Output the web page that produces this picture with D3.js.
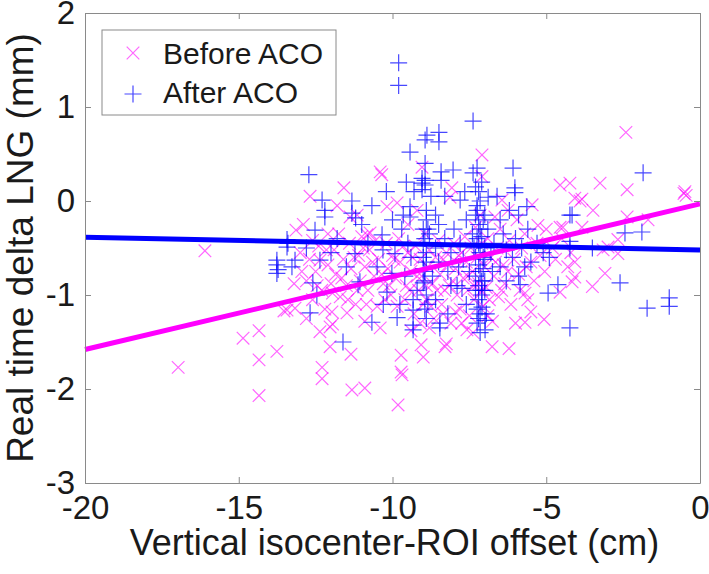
<!DOCTYPE html>
<html><head><meta charset="utf-8">
<script src="https://cdn.jsdelivr.net/npm/d3@7"></script>
<style>
html,body{margin:0;padding:0;background:#fff;}
svg{display:block;font-family:"Liberation Sans",Arial,Helvetica,sans-serif;}
</style></head>
<body>
<svg id="chart" width="709" height="574"></svg>
<script>
// ---- data ----
const xTicks = [-20, -15, -10, -5, 0];
const yTicks = [-3, -2, -1, 0, 1, 2];
const seriesNames = ["Before ACO", "After ACO"];
const fitX = [-20, 0];
const fitBefore = [-1.58, -0.03];
const fitAfter = [-0.385, -0.52];

const beforeACO = [
[-16.97,-1.77],[-16.1,-0.53],[-14.86,-1.46],[-14.34,-1.38],[-14.34,-1.69],[-14.34,-2.07],[-13.76,-1.60],[-13.53,-1.17],
[-13.43,-1.16],[-13.17,-1.14],[-13.14,-0.31],[-12.68,0.05],[-12.9,-0.25],[-12.29,-1.77],[-12.29,-1.89],[-12.03,-1.55],
[-12.03,-1.34],[-11.95,-1.31],[-12.36,-1.39],[-11.97,-1.18],[-11.48,-1.19],[-11.35,-1.63],[-11.32,-2.01],[-10.9,-1.99],
[-9.72,-1.64],[-9.69,-1.85],[-9.72,-1.82],[-9.82,-2.17],[-9.07,-1.53],[-9.0,-1.66],[-8.29,-1.55],[-8.25,-1.52],
[-7.58,-1.37],[-7.38,-1.40],[-6.76,-1.55],[-6.21,-1.57],[-5.69,-1.29],[-5.07,-1.26],[-5.69,-0.98],[-4.55,-0.97],[-4.16,-0.86],
[-11.58,0.14],[-10.4,0.31],[-10.35,0.28],[-9.04,0.36],[-8.07,0.14],[-8.13,0.04],[-7.09,0.49],[-7.09,0.26],
[-6.44,0.01],[-6.24,-0.10],[-6.67,-0.17],[-5.46,-0.04],[-5.27,-0.26],[-4.55,-0.28],[-4.55,0.17],[-4.23,0.19],
[-4.07,0.03],[-3.25,0.19],[-2.37,0.12],[-3.84,0.02],[-3.9,0.0],[-3.48,-0.10],[-2.41,0.73],[-0.49,0.10],[-0.45,0.06],
[-0.52,0.08],[-2.37,-0.17],[-1.69,-0.20],[-4.46,-0.28],[-3.84,-0.28],[-2.67,-0.41],[-3.15,-0.52],[-2.99,-0.49],
[-2.67,-0.56],[-4.07,-0.65],[-4.07,-0.81],[-3.09,-0.77],[-3.5,-0.91],
[-10.18,-0.06],[-9.85,-0.02],[-11.15,-0.15],[-11.38,-0.17],[-10.83,-0.36],[-10.73,-0.34],[-12.1,-0.35],[-11.8,-0.05],
[-9.5,-0.25],[-9.2,-0.1],[-12.36,-0.63],
[-13.0,-0.55],[-12.8,-0.85],[-12.7,-0.62],[-12.6,-1.05],[-12.5,-0.75],[-12.4,-0.48],[-12.3,-0.95],[-12.2,-1.15],[-12.1,-0.68],[-12.0,-0.88],
[-11.9,-0.52],[-11.85,-0.78],[-11.7,-1.02],[-11.6,-0.62],[-11.5,-0.9],[-11.4,-0.45],[-11.35,-0.72],[-11.2,-1.1],[-11.1,-0.58],[-11.05,-0.85],[-11.0,-0.38],
[-10.9,-0.7],[-10.8,-0.95],[-10.75,-0.52],[-10.6,-0.8],[-10.5,-1.12],[-10.45,-0.62],[-10.3,-0.88],[-10.2,-0.45],[-10.15,-0.72],[-10.05,-1.0],[-10.0,-0.58],
[-9.9,-0.82],[-9.8,-0.4],[-9.75,-0.65],[-9.6,-1.05],[-9.55,-0.9],[-9.5,-0.55],[-9.4,-0.75],[-9.3,-1.2],[-9.25,-0.48],[-9.15,-0.95],[-9.1,-0.62],[-9.05,-0.8],
[-8.95,-0.35],[-8.9,-1.05],[-8.85,-0.7],[-8.8,-0.52],[-8.7,-0.88],[-8.65,-1.25],[-8.6,-0.6],[-8.5,-0.42],[-8.45,-0.78],[-8.4,-1.1],[-8.3,-0.95],
[-8.25,-0.55],[-8.2,-0.68],[-8.1,-1.3],[-8.05,-0.85],[-8.0,-0.45],
[-7.95,-0.72],[-7.9,-1.0],[-7.85,-0.58],[-7.8,-1.15],[-7.7,-0.82],[-7.65,-0.38],[-7.6,-0.65],[-7.55,-0.95],[-7.5,-1.22],[-7.45,-0.5],
[-7.4,-0.75],[-7.35,-1.05],[-7.3,-0.28],[-7.25,-0.6],[-7.2,-0.88],[-7.15,-0.15],[-7.1,-0.45],[-7.05,-1.12],[-7.0,-0.7],
[-6.95,-0.92],[-6.9,-0.4],[-6.8,-0.6],[-6.75,-1.28],[-6.7,-0.8],[-6.6,-0.5],[-6.55,-1.02],[-6.5,-0.3],[-6.4,-0.68],[-6.35,-0.88],[-6.2,-0.42],[-6.15,-1.1],[-6.05,-0.62],
[-5.95,-0.2],[-5.9,-0.78],[-5.8,-0.5],[-5.7,-0.35],[-5.6,-1.05],[-5.5,-0.65],[-5.4,-0.85],[-5.3,-0.45],[-5.2,-0.58],[-5.05,-0.75],[-5.0,-0.3],
[-4.8,-0.5],[-4.7,-0.62],[-4.5,-0.4],[-4.3,-0.7],[-4.2,-0.55],
[-12.8,-1.25],[-10.9,-1.28],[-10.4,-1.35],[-9.4,-1.38],[-9.1,-1.3],[-8.8,-1.35],[-8.35,-1.2],[-6.0,-1.3],[-5.5,-1.18],[-6.9,-1.22],[-7.75,-1.3],
[-12.45,-0.9],[-12.15,-0.52],[-11.95,-0.98],[-11.75,-0.35],[-11.65,-0.82],[-11.45,-1.05],[-11.25,-0.6],[-11.15,-0.95],[-10.95,-0.5],
[-10.85,-1.1],[-10.65,-0.65],[-10.55,-0.42],[-10.35,-0.78],[-10.25,-1.05],[-10.1,-0.9],[-9.95,-0.62],[-9.85,-1.12],[-9.65,-0.48],
[-9.45,-0.95],[-9.35,-0.6],[-9.2,-0.8],[-9.0,-1.1],[-8.9,-0.9],[-8.75,-1.12],[-8.55,-0.95],[-8.35,-0.62],[-8.15,-0.9],[-7.95,-1.18],
[-7.75,-0.55],[-7.55,-0.8],[-7.35,-0.9],[-7.1,-0.95],[-6.85,-1.05],[-6.65,-0.65],[-6.45,-0.95],[-6.25,-0.75],[-5.85,-0.95],[-5.65,-0.7],
[-12.6,-0.42],[-12.95,-0.75],[-13.2,-0.88]
];

const afterACO = [
[-9.8,1.47],[-9.8,1.23],[-7.38,0.85],[-8.49,0.73],[-8.49,0.63],[-8.88,0.70],[-8.94,0.65],[-9.43,0.52],[-6.08,0.35],
[-7.38,0.30],[-8.03,0.33],[-8.42,0.31],[-8.42,0.22],[-8.94,0.40],[-8.94,0.22],[-8.94,0.17],[-6.02,0.14],[-6.02,0.09],
[-6.89,0.04],[-7.8,0.01],[-5.63,-0.06],[-4.23,-0.15],[-12.72,0.28],[-12.29,0.01],[-12.2,-0.1],[-12.2,-0.17],[-11.32,0.0],
[-11.32,-0.13],[-11.2,-0.18],[-10.67,-0.05],[-10.34,-0.36],[-12.52,-0.31],[-13.4,-0.45],[-13.76,-0.68],[-13.72,-0.73],
[-13.17,-0.63],[-13.27,-0.70],[-12.36,-0.63],[-11.22,-0.56],[-10.31,-0.52],[-9.92,-0.56],[-9.43,-0.06],[-9.43,-0.17],
[-9.04,0.24],[-9.04,0.19],[-9.04,0.12],[-12.59,-0.87],[-11.06,-0.86],[-10.02,-0.77],[-13.76,-0.63],[-13.76,-0.77],
[-13.43,-0.41],[-13.43,-0.49],[-12.46,-1.0],[-12.68,-1.19],[-11.61,-1.5],[-11.12,-0.89],[-10.67,-1.29],[-10.18,-0.97],
[-9.85,-1.24],[-9.76,-1.1],[-9.33,-1.05],[-9.33,-1.16],[-9.33,-1.32],[-9.33,-1.37],[-9.0,-0.87],[-8.46,-1.30],[-8.46,-1.35],
[-6.99,-1.27],[-6.99,-1.37],[-7.09,-0.95],[-7.09,-1.13],[-7.74,-0.93],[-5.85,-0.89],[-4.94,-0.98],[-4.62,-0.89],[-4.23,-1.35],
[-1.85,0.30],[-4.16,-0.15],[-2.44,-0.34],[-1.89,-0.33],[-4.23,-0.43],[-4.23,-0.5],[-3.5,-0.5],[-2.6,-0.87],[-1.72,-1.14],
[-1.0,-1.03],[-1.0,-1.12],
[-9.0,-0.3],[-9.0,-0.45],[-9.0,-0.6],[-9.0,-0.72],[-8.9,-0.2],[-8.9,-0.55],[-8.8,-0.35],[-8.7,-0.8],[-8.6,-0.5],[-8.5,-0.25],
[-8.5,-0.65],[-8.3,-0.4],[-8.2,-0.75],[-8.1,-0.55],[-8.0,-0.3],[-7.9,-0.9],[-7.8,-0.45],[-7.7,-0.62],[-7.6,-0.2],[-7.5,-0.75],
[-7.4,-0.35],[-7.35,-0.5],[-7.3,-0.6],[-7.3,-0.8],[-7.25,-0.1],[-7.2,-0.25],[-7.2,-0.45],[-7.2,-0.68],[-7.15,-0.55],[-7.1,-0.38],
[-7.1,-1.0],[-7.05,-0.72],[-7.0,-0.15],[-7.0,-0.5],[-7.0,-0.62],[-7.0,-0.85],[-6.95,-1.2],[-6.9,-0.3],[-6.8,-0.55],[-6.7,-0.45],
[-6.5,-0.7],[-6.4,-0.35],[-6.3,-0.52],[-6.2,-0.1],[-6.1,-0.6],[-6.0,-0.4],[-5.9,-0.8],[-5.8,-0.5],[-5.6,-0.3],[-5.5,-0.65],
[-5.3,-0.45],[-5.1,-0.55],[-4.9,-0.6],[-8.6,-1.05],[-8.2,-1.2],[-7.6,-1.1],[-9.6,-0.8],[-9.7,-0.3],[-10.0,-0.2],[-10.2,0.1],
[-10.5,-0.7],[-10.8,-0.45],[-11.0,-0.25],[-11.5,-0.7],[-11.8,-0.4],[-12.0,-0.55],[-12.8,-0.5],[-10.3,-1.1],[-9.55,0.2],[-9.5,-0.45],
[-8.75,0.05],[-8.3,0.05],[-7.65,0.1],[-7.3,0.15],[-7.25,0.35],[-7.1,0.2],[-6.6,0.05],[-6.5,-0.2],[-5.9,-0.15],[-9.2,-0.95],
[-8.95,-1.15],[-7.15,-1.4],[-7.2,-1.25],
[-7.25,-0.05],[-7.2,0.1],[-7.15,-0.3],[-7.2,-0.9],[-7.2,-1.05],[-7.15,-1.2],[-7.25,-1.3],[-7.05,-0.2],[-7.05,-0.6],[-7.0,-0.95],
[-8.9,-0.1],[-8.95,-0.4],[-8.9,-0.65],[-8.95,-0.85],[-8.9,-1.0],[-8.9,-1.25],
[-7.3,-0.15],[-7.25,-0.4],[-7.15,-0.75],[-7.1,-0.85],[-7.25,-1.15],[-7.3,-0.95],[-7.15,0.0],[-8.85,-0.3],[-8.95,-0.75],[-8.85,-1.1],
[-9.4,-0.6],[-9.65,-0.15],[-9.3,0.1],[-8.6,-0.15],[-8.1,-0.9],[-7.85,-0.7],[-6.75,-0.75],[-6.3,-0.85],[-5.7,-0.7]
];

// ---- layout ----
const svg = d3.select("#chart");
const L = 85, R = 700, T = 13, B = 483;
const x = d3.scaleLinear().domain([-20, 0]).range([L, R]);
const y = d3.scaleLinear().domain([-3, 2]).range([B, T]);
const axisColor = "#8a8a8a";
const textColor = "#1a1a1a";

svg.append("rect").attr("x", L).attr("y", T).attr("width", R - L).attr("height", B - T)
  .attr("fill", "#fff").attr("stroke", "none");

const gData = svg.append("g");

// scatter markers
const xs = 6.3, ps = 8.5;
const crossPath = `M${-xs},${-xs}L${xs},${xs}M${-xs},${xs}L${xs},${-xs}`;
const plusPath = `M${-ps},0L${ps},0M0,${-ps}L0,${ps}`;

gData.selectAll("path.before").data(beforeACO).join("path")
  .attr("class", "before")
  .attr("d", crossPath)
  .attr("transform", d => `translate(${x(d[0])},${y(d[1])})`)
  .attr("fill", "none").attr("stroke", "#ff00ff").attr("stroke-opacity", 0.6).attr("stroke-width", 1.2);

gData.selectAll("path.after").data(afterACO).join("path")
  .attr("class", "after")
  .attr("d", plusPath)
  .attr("transform", d => `translate(${x(d[0])},${y(d[1])})`)
  .attr("fill", "none").attr("stroke", "#0000ff").attr("stroke-opacity", 0.72).attr("stroke-width", 1.2);

// fit lines
const line = d3.line().x(d => x(d[0])).y(d => y(d[1]));
gData.append("path").datum(fitX.map((v, i) => [v, fitBefore[i]]))
  .attr("d", line).attr("stroke", "#ff00ff").attr("stroke-width", 5).attr("fill", "none");
gData.append("path").datum(fitX.map((v, i) => [v, fitAfter[i]]))
  .attr("d", line).attr("stroke", "#0000ff").attr("stroke-width", 5).attr("fill", "none");

// axes
const fmt = d => String(d);
function styleAxis(g, showLabels) {
  g.selectAll(".domain").attr("stroke", axisColor).attr("stroke-width", 1);
  g.selectAll(".tick line").attr("stroke", axisColor).attr("stroke-width", 1);
  g.selectAll(".tick text").attr("fill", textColor).attr("font-size", 33)
    .attr("font-family", '"Liberation Sans",Arial,sans-serif');
  if (!showLabels) g.selectAll(".tick text").remove();
}
svg.append("g").attr("transform", `translate(0,${B})`)
  .call(d3.axisBottom(x).tickValues(xTicks).tickFormat(fmt).tickSize(-6).tickSizeOuter(0).tickPadding(13))
  .call(g => styleAxis(g, true));
svg.append("g").attr("transform", `translate(0,${T})`)
  .call(d3.axisTop(x).tickValues(xTicks).tickFormat(fmt).tickSize(-6).tickSizeOuter(0))
  .call(g => styleAxis(g, false));
svg.append("g").attr("transform", `translate(${L},0)`)
  .call(d3.axisLeft(y).tickValues(yTicks).tickFormat(fmt).tickSize(-6).tickSizeOuter(0).tickPadding(10))
  .call(g => styleAxis(g, true));
svg.append("g").attr("transform", `translate(${R},0)`)
  .call(d3.axisRight(y).tickValues(yTicks).tickFormat(fmt).tickSize(-6).tickSizeOuter(0))
  .call(g => styleAxis(g, false));

// axis titles
svg.append("text").attr("x", (L + R) / 2 + 2).attr("y", 555).attr("text-anchor", "middle")
  .attr("font-size", 36).attr("fill", textColor).text("Vertical isocenter-ROI offset (cm)");
svg.append("text").attr("transform", `translate(33,${(T + B) / 2}) rotate(-90)`)
  .attr("text-anchor", "middle").attr("font-size", 37).attr("fill", textColor)
  .text("Real time delta LNG (mm)");

// legend
const lg = svg.append("g");
lg.append("rect").attr("x", 102).attr("y", 30).attr("width", 234).attr("height", 85)
  .attr("fill", "#fff").attr("stroke", axisColor).attr("stroke-width", 1);
const legendItems = [
  {name: seriesNames[0], path: crossPath, color: "#ff00ff", op: 0.6, cy: 53, base: 64},
  {name: seriesNames[1], path: plusPath, color: "#0000ff", op: 0.72, cy: 94, base: 103}
];
legendItems.forEach(it => {
  lg.append("path").attr("d", it.path).attr("transform", `translate(133,${it.cy})`)
    .attr("fill", "none").attr("stroke", it.color).attr("stroke-opacity", it.op).attr("stroke-width", 1.2);
  lg.append("text").attr("x", 163).attr("y", it.base).attr("font-size", 30)
    .attr("fill", textColor).text(it.name);
});
</script>
</body></html>
